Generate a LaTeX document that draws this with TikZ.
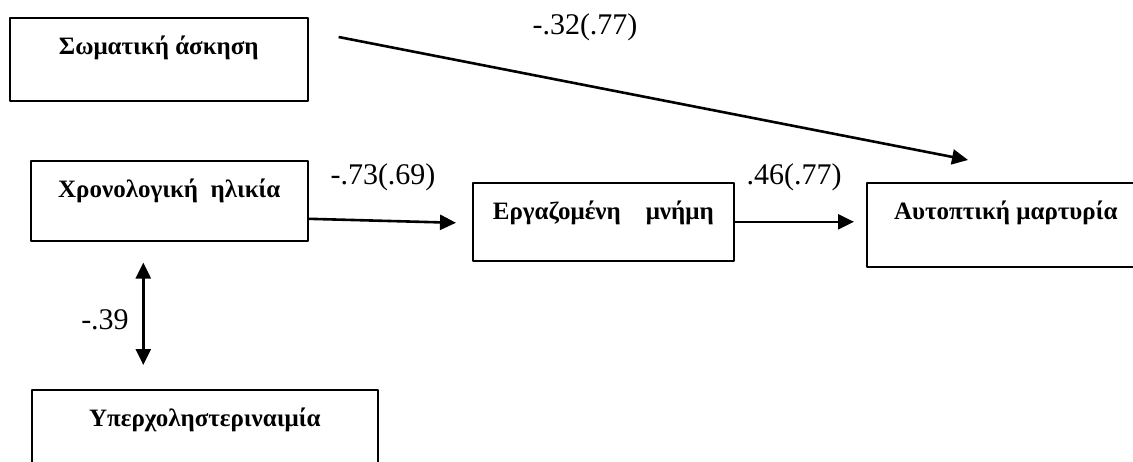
\documentclass[tikz,border=0pt]{standalone}
\usepackage{fontspec}
\setmainfont{Liberation Serif}
\usetikzlibrary{arrows.meta}

\tikzset{
	factor/.style={draw, line width=1.6pt, anchor=north west, inner xsep=6pt, inner ysep=19pt, text height=18pt, font=\bfseries\fontsize{25}{30}\selectfont},
	link/.style={line width=2.6pt},
	coef/.style={inner sep=0pt, font=\fontsize{30}{36}\selectfont}
}

\begin{document}
\begin{tikzpicture}[x=1pt, y=-1pt, line join=round, >={Triangle[length=16pt,width=15pt]}]
	\useasboundingbox (0,0) rectangle (1133,461);
	% boxes
	\node[factor, minimum width=298pt, text depth=27pt] (exercise) at (9,17) {Σωματική άσκηση};
	\node[factor, minimum width=277pt, text depth=24pt] (age) at (30,160) {Χρονολογική~~ηλικία};
	\node[factor, minimum width=261pt, text depth=22pt] (memory) at (472,182) {Εργαζομένη~~~~μνήμη};
	\node[factor, minimum width=278pt, text depth=28pt] (witness) at (866,182) {Αυτοπτική μαρτυρία};
	\node[factor, minimum width=346pt, text depth=25pt] (cholesterol) at (31,389) {Υπερχοληστεριναιμία};
	% paths
	\draw[link,->] ([shift={(30,20)}]exercise.north east) -- ([shift={(102,-22)}]witness.north west);
	\draw[link,->] ([yshift=-18pt]age.east) -- ([xshift=-16pt,yshift=-1pt]memory.west);
	\draw[link,->] (memory.east) -- ([xshift=-12pt,yshift=3pt]witness.west);
	\coordinate (agelink) at ([shift={(-26,21)}]age.south);
	\coordinate (chollink) at ([yshift=24pt]cholesterol.north);
	\draw[link,<->] (agelink) -- (agelink |- chollink);
	% coefficients
	\node[coef] (c1) at (585,27) {-.32(.77)};
	\node[coef] (c2) at (383,177) {-.73(.69)};
	\node[coef] (c3) at (794,177) {.46(.77)};
	\node[coef] (c4) at (105,320) {-.39};
\end{tikzpicture}
\end{document}
